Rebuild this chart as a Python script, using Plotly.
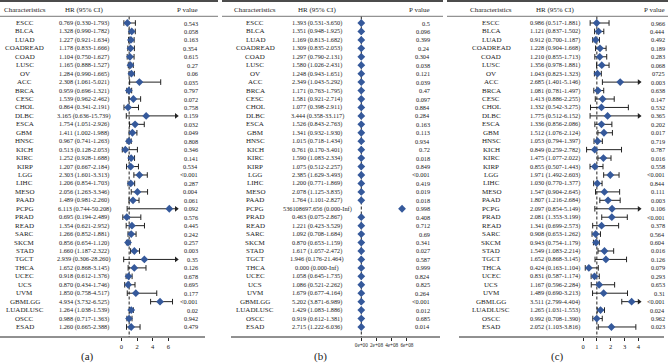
import math
import plotly.graph_objects as go

W, H = 668, 363
INF = float("inf")

cancers = ["ESCC", "BLCA", "LUAD", "COADREAD", "COAD", "LUSC", "OV", "ACC", "BRCA", "CESC",
           "CHOL", "DLBC", "ESCA", "GBM", "HNSC", "KICH", "KIRC", "KIRP", "LGG", "LIHC",
           "MESO", "PAAD", "PCPG", "PRAD", "READ", "SARC", "SKCM", "STAD", "TGCT", "THCA",
           "UCEC", "UCS", "UVM", "GBMLGG", "LUADLUSC", "OSCC", "ESAD"]

# Panel (a)
hr_a = [0.769, 1.328, 1.227, 1.178, 1.104, 1.165, 1.284, 2.308, 0.959, 1.539, 0.864, 3.165, 1.754,
        1.411, 0.967, 0.513, 1.252, 1.207, 2.303, 1.206, 2.056, 1.489, 6.113, 0.695, 1.354, 1.266,
        0.856, 1.660, 2.939, 1.652, 0.918, 0.870, 1.850, 4.934, 1.264, 0.988, 1.260]
lo_a = [0.330, 0.990, 0.921, 0.833, 0.750, 0.888, 0.990, 1.061, 0.696, 0.962, 0.341, 0.636, 1.051,
        1.002, 0.741, 0.128, 0.928, 0.667, 1.601, 0.854, 1.263, 0.981, 0.744, 0.194, 0.621, 0.852,
        0.654, 1.187, 0.306, 0.868, 0.612, 0.434, 0.758, 3.732, 1.038, 0.717, 0.665]
hi_a = [1.793, 1.782, 1.634, 1.666, 1.627, 1.527, 1.665, 5.021, 1.321, 2.462, 2.191, 15.739, 2.926,
        1.988, 1.263, 2.053, 1.688, 2.184, 3.313, 1.703, 3.346, 2.260, 50.208, 2.489, 2.952, 1.881,
        1.120, 2.322, 28.260, 3.145, 1.376, 1.746, 4.517, 6.525, 1.539, 1.363, 2.388]
p_a = ["0.543", "0.058", "0.163", "0.354", "0.615", "0.27", "0.06", "0.035", "0.797", "0.072",
       "0.758", "0.159", "0.032", "0.049", "0.808", "0.346", "0.141", "0.534", "<0.001", "0.287",
       "0.004", "0.061", "0.092", "0.576", "0.445", "0.242", "0.257", "0.003", "0.35", "0.126",
       "0.678", "0.695", "0.177", "<0.001", "0.02", "0.942", "0.479"]

# Panel (b)
hr_b = [1.393, 1.351, 1.169, 1.309, 1.297, 1.580, 1.248, 2.349, 1.171, 1.581, 1.077, 3.444, 1.526,
        1.341, 1.015, 0.761, 1.590, 1.075, 2.385, 1.200, 2.078, 1.764, 536108697.656, 0.463, 1.221,
        1.092, 0.870, 1.617, 1.946, 0.000, 1.058, 1.086, 1.679, 5.202, 1.429, 0.919, 2.715]
lo_b = [0.531, 0.948, 0.813, 0.835, 0.790, 1.026, 0.943, 1.043, 0.763, 0.921, 0.398, 0.358, 0.843,
        0.932, 0.718, 0.170, 1.083, 0.512, 1.629, 0.771, 1.125, 1.101, 0.000, 0.075, 0.423, 0.708,
        0.653, 1.057, 0.176, 0.000, 0.645, 0.521, 0.677, 3.871, 1.083, 0.612, 1.222]
hi_b = [3.650, 1.925, 1.682, 2.053, 2.131, 2.431, 1.651, 5.292, 1.795, 2.714, 2.911, 33.117, 2.763,
        1.930, 1.434, 3.401, 2.334, 2.257, 3.493, 1.869, 3.835, 2.827, INF, 2.867, 3.529, 1.684,
        1.159, 2.472, 21.464, INF, 1.735, 2.262, 4.164, 6.989, 1.886, 1.381, 6.036]
p_b = ["0.5", "0.096", "0.399", "0.24", "0.304", "0.038", "0.121", "0.039", "0.47", "0.097",
       "0.884", "0.284", "0.163", "0.113", "0.934", "0.72", "0.018", "0.849", "<0.001", "0.419",
       "0.019", "0.018", "0.998", "0.408", "0.712", "0.69", "0.341", "0.027", "0.587", "0.999",
       "0.824", "0.825", "0.264", "<0.001", "0.012", "0.685", "0.014"]

# Panel (c)
hr_c = [0.986, 1.121, 0.912, 1.228, 1.210, 1.356, 1.043, 2.685, 1.081, 1.413, 1.332, 1.775, 1.336,
        1.512, 1.053, 0.849, 1.475, 0.855, 1.971, 1.030, 1.547, 1.807, 2.097, 2.081, 1.341, 0.908,
        0.943, 1.549, 1.652, 0.424, 0.831, 1.167, 1.489, 3.511, 1.265, 0.992, 2.052]
lo_c = [0.517, 0.837, 0.700, 0.904, 0.855, 0.978, 0.823, 1.401, 0.781, 0.886, 0.542, 0.512, 0.856,
        1.076, 0.794, 0.259, 1.077, 0.507, 1.492, 0.770, 0.904, 1.216, 0.854, 1.353, 0.699, 0.653,
        0.754, 1.083, 0.868, 0.163, 0.587, 0.596, 0.690, 2.799, 1.031, 0.708, 1.103]
hi_c = [1.881, 1.502, 1.187, 1.668, 1.713, 1.881, 1.323, 5.146, 1.497, 2.255, 3.275, 6.152, 2.086,
        2.124, 1.397, 2.782, 2.022, 1.443, 2.603, 1.377, 2.645, 2.684, 5.149, 3.199, 2.573, 1.262,
        1.179, 2.214, 3.145, 1.104, 1.174, 2.284, 3.213, 4.404, 1.553, 1.390, 3.816]
p_c = ["0.966", "0.444", "0.492", "0.189", "0.283", "0.068", "0725", "0.003", "0.638", "0.147",
       "0.532", "0.365", "0.202", "0.017", "0.719", "0.787", "0.016", "0.558", "<0.001", "0.844",
       "0.111", "0.003", "0.106", "<0.001", "0.378", "0.564", "0.604", "0.016", "0.126", "0.079",
       "0.293", "0.653", "0.31", "<0.001", "0.024", "0.962", "0.023"]

ticks_a = [0, 2, 4, 6]
ticklabels_a = ["0", "2", "4", "6"]
ticks_b = [0, 2e8, 4e8, 6e8]
ticklabels_b = ["0e+00", "2e+08", "4e+08", "6e+08"]
ticks_c = [0, 1, 2, 3, 4]
ticklabels_c = ["0", "1", "2", "3", "4"]
panel_labels = ["(a)", "(b)", "(c)"]
headers = ["Characteristics", "HR (95% CI)", "P value"]

# ---------------- layout geometry (pixels) ----------------
ROW0, PITCH = 23.0, 8.444
def ydat(p):  # pixel-from-top -> row coordinate
    return (p - ROW0) / PITCH
def xp(p):
    return p / W
def yp(p):
    return 1 - p / H

FONT = "Liberation Serif, Times New Roman, serif"
TXT = "#222222"
BLUE = "#35599b"
LINE = "#222222"

panels = [
    dict(hr=hr_a, lo=lo_a, hi=hi_a, p=p_a, lab_cx=25, hr_cx=84, p_rx=199.5,
         dom=(110, 190), origin=121.3, scale=7.85, cap=7.0, tfs=6.5,
         tv=ticks_a, tt=ticklabels_a, rule=(0, 218), bottom=(0, 205), plab_cx=87),
    dict(hr=hr_b, lo=lo_b, hi=hi_b, p=p_b, lab_cx=255.5, hr_cx=317, p_rx=432,
         dom=(350, 420), origin=361.3, scale=15.2 / 2e8, cap=None, tfs=5.2,
         tv=ticks_b, tt=ticklabels_b, rule=(222, 443), bottom=(231, 440), plab_cx=320),
    dict(hr=hr_c, lo=lo_c, hi=hi_c, p=p_c, lab_cx=491, hr_cx=554.5, p_rx=666.5,
         dom=(570, 650), origin=583, scale=13.85, cap=4.05, tfs=6.5,
         tv=ticks_c, tt=ticklabels_c, rule=(447, 668), bottom=(459, 664), plab_cx=557),
]

def fmt(v):
    return "Inf" if math.isinf(v) else f"{v:.3f}"

fig = go.Figure()
annotations = []
shapes = []
layout_axes = {}
n = len(cancers)

for k, P in enumerate(panels):
    xa = "x" if k == 0 else f"x{k + 1}"
    axname = "xaxis" if k == 0 else f"xaxis{k + 1}"
    d0, d1 = P["dom"]
    layout_axes[axname] = dict(
        domain=[xp(d0), xp(d1)],
        range=[(d0 - P["origin"]) / P["scale"], (d1 - P["origin"]) / P["scale"]],
        anchor="free", position=yp(337), showline=False, showgrid=False, zeroline=False,
        ticks="outside", ticklen=3, tickwidth=1, tickcolor=LINE, tickangle=0,
        tickvals=P["tv"], ticktext=P["tt"],
        tickfont=dict(family=FONT, size=P["tfs"], color=TXT),
    )

    # reference dashed line at HR = 1
    fig.add_trace(go.Scatter(x=[1, 1], y=[ydat(16.5), ydat(337)], mode="lines",
                             line=dict(color=LINE, width=1, dash="3px,2px"),
                             xaxis=xa, yaxis="y", hoverinfo="skip", showlegend=False))

    seg_x, seg_y, lc_x, lc_y, rc_x, rc_y, ar_x, ar_y = [], [], [], [], [], [], [], []
    for i in range(n):
        lo, hi = P["lo"][i], P["hi"][i]
        if math.isinf(hi):
            continue
        cap = P["cap"]
        trunc = cap is not None and hi > cap
        top = cap if trunc else hi
        seg_x += [lo, top, None]
        seg_y += [i, i, None]
        lc_x.append(lo); lc_y.append(i)
        if trunc:
            ar_x.append(cap); ar_y.append(i)
        else:
            rc_x.append(hi); rc_y.append(i)

    fig.add_trace(go.Scatter(x=seg_x, y=seg_y, mode="lines", line=dict(color=LINE, width=1),
                             xaxis=xa, yaxis="y", hoverinfo="skip", showlegend=False))
    fig.add_trace(go.Scatter(x=lc_x + rc_x, y=lc_y + rc_y, mode="markers",
                             marker=dict(symbol="line-ns", size=4, line=dict(color=LINE, width=1)),
                             xaxis=xa, yaxis="y", hoverinfo="skip", showlegend=False))
    if ar_x:
        fig.add_trace(go.Scatter(x=ar_x, y=ar_y, mode="markers",
                                 marker=dict(symbol="triangle-right", size=5, color=LINE),
                                 xaxis=xa, yaxis="y", hoverinfo="skip", showlegend=False))
    fig.add_trace(go.Scatter(x=P["hr"], y=list(range(n)), mode="markers",
                             marker=dict(symbol="diamond", size=6, color=BLUE, line=dict(width=0)),
                             xaxis=xa, yaxis="y", hoverinfo="skip", showlegend=False))

    # text columns
    for i in range(n):
        annotations.append(dict(x=xp(P["lab_cx"]), y=i, xref="paper", yref="y", text=cancers[i],
                                showarrow=False, xanchor="center", yanchor="middle",
                                font=dict(family=FONT, size=7, color=TXT)))
        hr_txt = f"{fmt(P['hr'][i])} ({fmt(P['lo'][i])}-{fmt(P['hi'][i])})"
        annotations.append(dict(x=xp(P["hr_cx"]), y=i, xref="paper", yref="y", text=hr_txt,
                                showarrow=False, xanchor="center", yanchor="middle",
                                font=dict(family=FONT, size=6.3, color=TXT)))
        annotations.append(dict(x=xp(P["p_rx"]), y=i, xref="paper", yref="y",
                                text=P["p"][i].replace("<", "&lt;"),
                                showarrow=False, xanchor="right", yanchor="middle",
                                font=dict(family=FONT, size=6.3, color=TXT)))
    # headers
    for txt, xx, anc in zip(headers, [P["lab_cx"], P["hr_cx"], P["p_rx"]], ["center", "center", "right"]):
        annotations.append(dict(x=xp(xx), y=ydat(10), xref="paper", yref="y", text=txt,
                                showarrow=False, xanchor=anc, yanchor="middle",
                                font=dict(family=FONT, size=7, color=TXT)))
    annotations.append(dict(x=xp(P["plab_cx"]), y=ydat(356), xref="paper", yref="y",
                            text=panel_labels[k], showarrow=False, xanchor="center",
                            yanchor="middle", font=dict(family=FONT, size=11, color=TXT)))

    r0, r1 = P["rule"]
    shapes.append(dict(type="line", xref="paper", yref="paper", x0=xp(r0), x1=xp(r1),
                       y0=yp(1), y1=yp(1), line=dict(color="#111111", width=1.5)))
    shapes.append(dict(type="line", xref="paper", yref="paper", x0=xp(r0), x1=xp(r1),
                       y0=yp(16.3), y1=yp(16.3), line=dict(color="#555555", width=0.8)))
    b0, b1 = P["bottom"]
    shapes.append(dict(type="line", xref="paper", yref="paper", x0=xp(b0), x1=xp(b1),
                       y0=yp(337), y1=yp(337), line=dict(color=LINE, width=1)))

fig.update_layout(
    width=W, height=H, margin=dict(l=0, r=0, t=0, b=0),
    paper_bgcolor="white", plot_bgcolor="white", showlegend=False,
    yaxis=dict(domain=[0, 1], range=[ydat(H), ydat(0)], visible=False, fixedrange=True),
    annotations=annotations, shapes=shapes,
    **layout_axes,
)

fig.write_html("out.html", config={"displayModeBar": False},
               post_script="document.body.style.margin='0';document.body.style.overflow='hidden';")
